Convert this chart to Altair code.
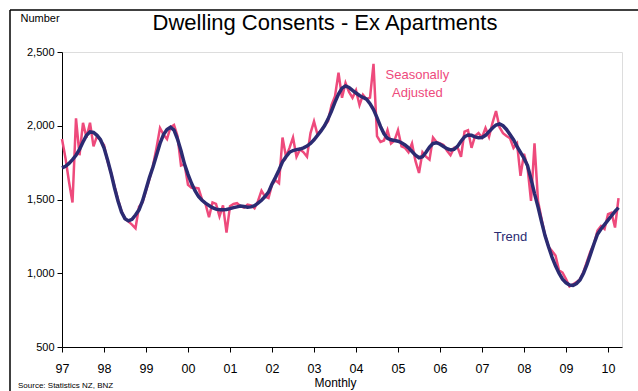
import altair as alt
import pandas as pd

START_YEAR = 1997

sa = [
    1910, 1780, 1620, 1480, 2050, 1800, 2020, 1920, 2020, 1860, 1930, 1900,  # 1997
    1870, 1760, 1680, 1590, 1500, 1420, 1370, 1350, 1330, 1305, 1450, 1480,  # 1998
    1560, 1640, 1730, 1850, 1985, 1940, 1910, 1990, 2005, 1930, 1730, 1740,  # 1999
    1600, 1580, 1580, 1575, 1500, 1470, 1380, 1480, 1470, 1385, 1460, 1275,  # 2000
    1455, 1470, 1475, 1455, 1445, 1465, 1460, 1440, 1490, 1560, 1520, 1510,  # 2001
    1600, 1630, 1610, 1920, 1790, 1850, 1920, 1790, 1840, 1820, 1790, 1950,  # 2002
    2030, 1940, 1970, 2000, 2030, 2140, 2200, 2360, 2190, 2290, 2230, 2190,  # 2003
    2240, 2140, 2210, 2180, 2190, 2420, 1930, 1890, 1900, 1970, 1880, 1900,  # 2004
    1970, 1860, 1850, 1820, 1880, 1760, 1680, 1820, 1790, 1770, 1920, 1890,  # 2005
    1880, 1870, 1830, 1800, 1850, 1855, 1790, 1960, 1970, 1850, 1930, 1950,  # 2006
    1920, 1985, 1925, 2020, 2100, 1990, 1950, 1930, 1915, 1850, 1880, 1660,  # 2007
    1810, 1720, 1490, 1880, 1490, 1370, 1260, 1180, 1150, 1120, 1020, 1005,  # 2008
    960, 910, 925, 940, 960, 1010, 1080, 1150, 1200, 1290, 1320, 1300,       # 2009
    1400, 1410, 1310, 1510,                                                  # 2010
]

trend = [
    1714, 1725, 1745, 1770, 1800, 1840, 1890, 1935, 1958, 1955, 1935, 1905,  # 1997
    1850, 1770, 1680, 1580, 1490, 1415, 1370, 1355, 1365, 1395, 1430, 1490,  # 1998
    1570, 1650, 1720, 1800, 1880, 1940, 1975, 1990, 1970, 1910, 1830, 1740,  # 1999
    1670, 1610, 1560, 1520, 1495, 1475, 1460, 1445, 1435, 1430, 1430, 1432,  # 2000
    1438, 1445, 1450, 1455, 1452, 1448, 1450, 1458, 1475, 1495, 1520, 1550,  # 2001
    1605, 1650, 1700, 1755, 1790, 1820, 1832, 1838, 1842, 1850, 1862, 1880,  # 2002
    1905, 1935, 1965, 2000, 2045, 2100, 2160, 2215, 2255, 2270, 2260, 2240,  # 2003
    2222, 2205, 2192, 2180, 2150, 2110, 2055, 1995, 1945, 1915, 1905, 1900,  # 2004
    1895, 1885, 1870, 1850, 1825, 1800, 1783, 1790, 1820, 1855, 1880, 1885,  # 2005
    1875, 1860, 1845, 1836, 1840, 1860, 1895, 1925, 1937, 1935, 1925, 1918,  # 2006
    1920, 1935, 1960, 1985, 2005, 2012, 2000, 1975, 1940, 1905, 1860, 1820,  # 2007
    1780, 1730, 1640, 1540, 1450, 1350, 1255, 1180, 1110, 1050, 1000, 960,   # 2008
    935, 920, 918, 930, 955, 1000, 1060, 1130, 1200, 1265, 1300, 1330,       # 2009
    1360, 1390, 1420, 1445,                                                  # 2010
]

year_ticks = list(range(1997, 2011))
y_ticks = [500, 1000, 1500, 2000, 2500]

labels_text = ["Seasonally", "Adjusted", "Trend"]
labels_t = [2005.46, 2005.46, 2007.68]
labels_v = [2344, 2222, 1246]
labels_series = ["sa", "sa", "trend"]

TITLE = "Dwelling Consents - Ex Apartments"
SOURCE = "Source: Statistics NZ, BNZ"

PINK = "#EE4A7C"
NAVY = "#2B2B72"
FONT = "Liberation Sans"

t_vals = [START_YEAR + i / 12 for i in range(len(sa))]
df = pd.DataFrame({"t": t_vals, "sa": sa, "trend": trend})
lab = pd.DataFrame({"t": labels_t, "v": labels_v, "text": labels_text, "s": labels_series})

xscale = alt.Scale(domain=[1997, 2010.333], nice=False, zero=False)
yscale = alt.Scale(domain=[500, 2500], nice=False, zero=False)

xaxis = alt.Axis(
    values=year_ticks,
    labelExpr="substring(toString(datum.value), 2, 4)",
    labelFlush=False,
    title="Monthly",
    grid=False,
    domainColor="black",
    tickColor="black",
    tickSize=5,
    labelFont=FONT,
    labelFontSize=12.5,
    labelColor="black",
    labelPadding=10,
    titleFont=FONT,
    titleFontSize=12,
    titleFontWeight="normal",
    titleColor="black",
    titlePadding=3,
    titleX=273,
)
yaxis = alt.Axis(
    values=y_ticks,
    labelExpr="format(datum.value, ',')",
    labelFlush=False,
    title="Number",
    titleAngle=0,
    titleAlign="left",
    titleBaseline="middle",
    titleX=-42,
    titleY=-34,
    titleFont=FONT,
    titleFontSize=11,
    titleFontWeight="normal",
    titleColor="black",
    grid=False,
    domainColor="black",
    tickColor="black",
    tickSize=5,
    labelFont=FONT,
    labelFontSize=11,
    labelColor="black",
    labelPadding=3,
)

base = alt.Chart(df)
sa_line = base.mark_line(color=PINK, strokeWidth=2.5).encode(
    x=alt.X("t:Q", scale=xscale, axis=xaxis),
    y=alt.Y("sa:Q", scale=yscale, axis=yaxis),
)
trend_line = base.mark_line(color=NAVY, strokeWidth=3.5).encode(
    x=alt.X("t:Q", scale=xscale),
    y=alt.Y("trend:Q", scale=yscale),
)
label_marks = alt.Chart(lab).mark_text(font=FONT, fontSize=13, align="center", baseline="middle").encode(
    x=alt.X("t:Q", scale=xscale),
    y=alt.Y("v:Q", scale=yscale),
    text="text:N",
    color=alt.Color("s:N", scale=alt.Scale(domain=["sa", "trend"], range=[PINK, NAVY]), legend=None),
)
title_mark = alt.Chart(pd.DataFrame({"s": [TITLE]})).mark_text(
    font=FONT, fontSize=22, align="center", baseline="middle", color="black"
).encode(x=alt.value(263), y=alt.value(-29), text="s:N")
source = alt.Chart(pd.DataFrame({"s": [SOURCE]})).mark_text(
    font=FONT, fontSize=8, align="left", baseline="middle", color="black"
).encode(x=alt.value(-44), y=alt.value(334), text="s:N")

frame_v = alt.Chart(pd.DataFrame({"a": [0]})).mark_rule(color="black", strokeWidth=1.5).encode(
    x=alt.value(-52), y=alt.value(-42), y2=alt.value(345)
)
frame_h = alt.Chart(pd.DataFrame({"a": [0]})).mark_rule(color="black", strokeWidth=1.5).encode(
    x=alt.value(-52), x2=alt.value(580), y=alt.value(-42)
)

chart = alt.layer(sa_line, trend_line, label_marks, title_mark, source, frame_v, frame_h).properties(
    width=560,
    height=295,
    padding={"left": 62, "top": 52, "right": 16, "bottom": 44},
    autosize="none",
).configure_view(stroke=None).configure(background="white")

chart.save("out.html", embed_options={"renderer": "svg", "actions": False})
